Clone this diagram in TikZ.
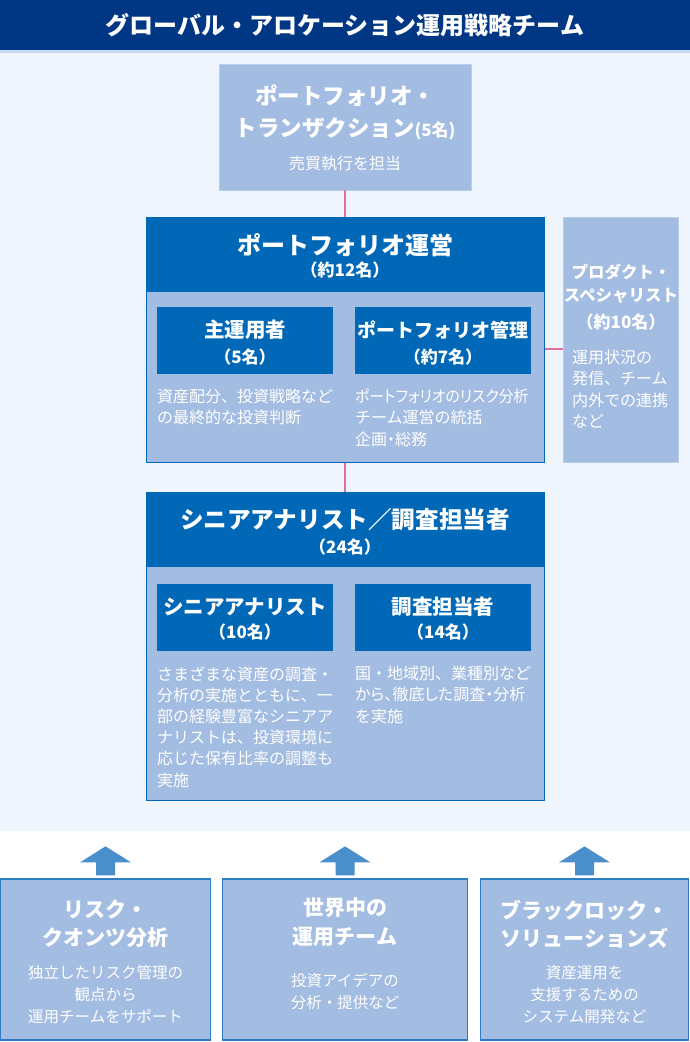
\documentclass[tikz,border=0pt]{standalone}
\usepackage{fontspec}
\setmainfont{Noto Sans CJK JP}
\usepackage{xcolor}
\usepackage{graphicx}
\usepackage{tikz}

\definecolor{navy}{HTML}{003784}
\definecolor{stripblue}{HTML}{C8DCF2}
\definecolor{bgblue}{HTML}{EEF5FD}
\definecolor{paleblue}{HTML}{A3BCE1}
\definecolor{paleedge}{HTML}{B9CDEA}
\definecolor{deepblue}{HTML}{0068B7}
\definecolor{edgeblue}{HTML}{2F7BC3}
\definecolor{linkpink}{HTML}{E0709E}
\definecolor{arrowblue}{HTML}{4A8ECC}

\newcommand{\fsz}[1]{\fontsize{#1}{#1}\selectfont}
\newcommand{\prop}{\addfontfeature{RawFeature=+palt}}

\tikzset{
  plainbox/.style={fill=paleblue, draw=paleedge, line width=0.8pt, inner sep=0pt},
  deepbox/.style={fill=deepblue, inner sep=0pt},
  groupbox/.style={fill=paleblue, draw=deepblue, line width=1pt, inner sep=0pt},
  outbox/.style={fill=paleblue, draw=edgeblue, line width=1.3pt, inner sep=0pt},
  headtxt/.style={text=white, inner sep=0pt, font=\bfseries\fsz{24}},
  innertxt/.style={text=white, inner sep=0pt, font=\bfseries\fsz{20.5}},
  counttxt/.style={text=white, inner sep=0pt, font=\bfseries\fsz{17}},
  desctxt/.style={text=white, inner sep=0pt, align=left, font=\fontsize{16}{21.2}\selectfont},
  link/.style={draw=linkpink, line width=1.4pt},
}

\begin{document}
\begin{tikzpicture}[x=1pt,y=-1pt]
  \useasboundingbox (0,0) rectangle (690,1042);
  \fill[bgblue] (0,50) rectangle (690,831);
  \fill[stripblue] (0,50) rectangle (690,52.5);
  \node[fill=navy, inner sep=0pt, minimum width=690pt, minimum height=50pt] (bar) at (345,25) {};
  \node[headtxt] (bartitle) at (345,25.5) {グローバル・アロケーション運用戦略チーム};

  \node[plainbox, minimum width=252pt, minimum height=126pt] (trade) at (345,127) {};
  \node[headtxt, font=\bfseries\fsz{22.5}] (trade1) at (345,96) {ポートフォリオ・};
  \node[headtxt, font=\bfseries\fsz{22.5}] (trade2) at (345,129) {トランザクション{\fsz{17}(5名)}};
  \node[desctxt] (trade3) at (345,164) {売買執行を担当};

  \node[groupbox, minimum width=398pt, minimum height=245pt] (pm) at (345,339.5) {};
  \node[deepbox, minimum width=398pt, minimum height=75pt] (pmhead) at (345,254.5) {};
  \node[headtxt] (pm1) at (345,245) {ポートフォリオ運営};
  \node[counttxt] (pm2) at (345,270) {（約12名）};
  \node[deepbox, minimum width=176pt, minimum height=67pt] (lead) at (245,340.5) {};
  \node[innertxt] (lead1) at (245,330) {主運用者};
  \node[counttxt] (lead2) at (245,357) {（5名）};
  \node[deepbox, minimum width=176pt, minimum height=67pt] (admin) at (443,340.5) {};
  \node[innertxt, font=\bfseries\fsz{19}] (admin1) at (443,330) {ポートフォリオ管理};
  \node[counttxt] (admin2) at (443,357) {（約7名）};
  \node[desctxt, anchor=north west] (leadtxt) at (157,389) {資産配分、投資戦略など\\の最終的な投資判断};
  \node[desctxt, anchor=north west] (admintxt) at (355,389) {\scalebox{0.93}[1]{\prop ポートフォリオのリスク分析}\\チーム運営の統括\\{\prop 企画・総務}};

  \node[plainbox, minimum width=115pt, minimum height=245pt] (spec) at (621,339.5) {};
  \node[innertxt, font=\bfseries\fsz{16.5}] (spec1) at (621,272) {プロダクト・};
  \node[innertxt, font=\bfseries\fsz{16.5}] (spec2) at (621,296) {スペシャリスト};
  \node[counttxt] (spec3) at (621,322) {（約10名）};
  \node[desctxt, anchor=north west] (spectxt) at (572,350) {運用状況の\\発信、チーム\\内外での連携\\など};

  \node[groupbox, minimum width=398pt, minimum height=308pt] (sa) at (345,646) {};
  \node[deepbox, minimum width=398pt, minimum height=75pt] (sahead) at (345,529.5) {};
  \node[headtxt, font=\bfseries\fsz{23.6}] (sa1) at (345,520) {シニアアナリスト／調査担当者};
  \node[counttxt] (sa2) at (345,547) {（24名）};
  \node[deepbox, minimum width=176pt, minimum height=67pt] (senior) at (245,617.5) {};
  \node[innertxt] (senior1) at (245,607) {シニアアナリスト};
  \node[counttxt] (senior2) at (245,632) {（10名）};
  \node[deepbox, minimum width=176pt, minimum height=67pt] (survey) at (443,617.5) {};
  \node[innertxt] (survey1) at (443,607) {調査担当者};
  \node[counttxt] (survey2) at (443,632) {（14名）};
  \node[desctxt, anchor=north west] (seniortxt) at (157,666) {さまざまな資産の調査・\\分析の実施とともに、一\\部の経験豊富なシニアア\\ナリストは、投資環境に\\応じた保有比率の調整も\\実施};
  \node[desctxt, anchor=north west] (surveytxt) at (355,666) {国・地域別、業種別など\\{\prop から、徹底した調査・分析}\\を実施};

  \draw[link] (trade.south) -- (pm.north);
  \draw[link] (pm.south) -- (sa.north);
  \draw[link] ([yshift=-9.5pt]pm.east) -- ([yshift=-9.5pt]spec.west);

  \node[outbox, minimum width=210pt, minimum height=161pt] (risk) at (105.5,959.5) {};
  \node[outbox, minimum width=245pt, minimum height=161pt] (world) at (345,959.5) {};
  \node[outbox, minimum width=208pt, minimum height=161pt] (brs) at (584.5,959.5) {};
  \foreach \nm in {risk,world,brs}
    \fill[arrowblue] ([xshift=-9.5pt,yshift=3pt]\nm.north) -- ++(0,-13) -- ++(-16,0) -- ++(25.5,-16)
      -- ++(25.5,16) -- ++(-16,0) -- ++(0,13) -- cycle;

  \node[innertxt, font=\bfseries\fsz{21}] (risk1) at (105.5,909) {リスク・};
  \node[innertxt, font=\bfseries\fsz{21}] (risk2) at (105.5,938) {クオンツ分析};
  \node[desctxt, align=center, font=\fontsize{15.5}{22}\selectfont] (risktxt) at (105.5,995) {独立したリスク管理の\\観点から\\運用チームをサポート};
  \node[innertxt, font=\bfseries\fsz{21}] (world1) at (345,908) {世界中の};
  \node[innertxt, font=\bfseries\fsz{21}] (world2) at (345,937) {運用チーム};
  \node[desctxt, align=center, font=\fontsize{15.5}{22}\selectfont] (worldtxt) at (345,992) {投資アイデアの\\分析・提供など};
  \node[innertxt, font=\bfseries\fsz{21}] (brs1) at (584.5,910) {ブラックロック・};
  \node[innertxt, font=\bfseries\fsz{21}] (brs2) at (584.5,938) {ソリューションズ};
  \node[desctxt, align=center, font=\fontsize{15.5}{22}\selectfont] (brstxt) at (584.5,995) {資産運用を\\支援するための\\システム開発など};
\end{tikzpicture}
\end{document}
